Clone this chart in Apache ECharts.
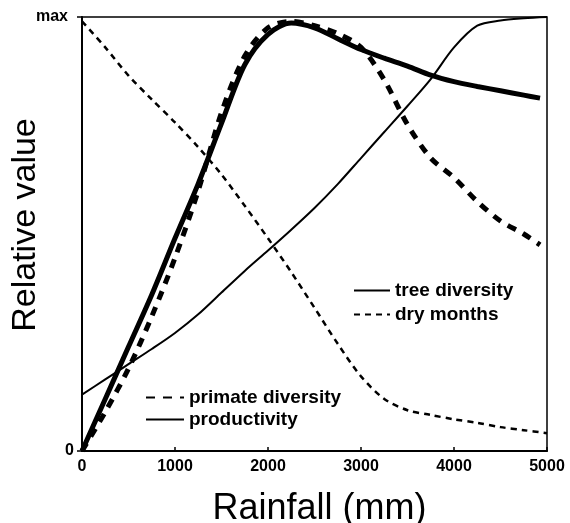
<!DOCTYPE html>
<html>
<head>
<meta charset="utf-8">
<script src="https://cdn.jsdelivr.net/npm/echarts@6/dist/echarts.min.js"></script>
<style>
  html, body { margin: 0; padding: 0; background: #fff; }
  #chart { width: 570px; height: 523px; }
</style>
</head>
<body>
<div id="chart"></div>
<script>
// rainfall (mm) sample points
var rainThick = [0, 250, 500, 750, 1000, 1250, 1500, 1750, 2000, 2250, 2500, 2750, 3000, 3250, 3500, 3750, 4000, 4250, 4500, 4750, 4925];
var rainThin = [0, 250, 500, 750, 1000, 1250, 1500, 1750, 2000, 2250, 2500, 2750, 3000, 3250, 3500, 3750, 4000, 4250, 4500, 4750, 5000];

var productivity = [0, 0.12, 0.24, 0.36, 0.49, 0.616, 0.755, 0.89, 0.96, 0.986, 0.975, 0.95, 0.925, 0.905, 0.887, 0.866, 0.851, 0.84, 0.83, 0.82, 0.813];
var primateDiversity = [0, 0.09, 0.19, 0.31, 0.445, 0.6, 0.78, 0.91, 0.975, 0.99, 0.98, 0.962, 0.93, 0.855, 0.752, 0.675, 0.63, 0.575, 0.53, 0.5, 0.475];
var treeDiversity = [0.13, 0.165, 0.2, 0.235, 0.272, 0.315, 0.365, 0.415, 0.462, 0.51, 0.56, 0.615, 0.675, 0.735, 0.795, 0.857, 0.93, 0.98, 0.992, 0.997, 1.0];
var dryMonths = [0.99, 0.93, 0.865, 0.81, 0.757, 0.7, 0.637, 0.565, 0.49, 0.412, 0.33, 0.247, 0.172, 0.12, 0.094, 0.083, 0.073, 0.065, 0.055, 0.048, 0.041];

var yTickLabels = ['0', 'max'];

function pairs(xs, ys) {
    return xs.map(function (x, i) { return [x, ys[i]]; });
}

var font = "'Liberation Sans', Arial, sans-serif";

var chartDom = document.getElementById('chart');
var myChart = echarts.init(chartDom);

var legendText = { color: '#000', fontSize: 19, fontWeight: 'bold', fontFamily: font };

var option = {
    backgroundColor: '#fff',
    animation: false,
    grid: {
        left: 82,
        right: 23,
        top: 17,
        bottom: 72,
        outerBoundsMode: 'none',
        containLabel: false,
        show: true,
        borderColor: '#000',
        borderWidth: 1.5
    },
    legend: [
        {
            data: ['tree diversity', 'dry months'],
            orient: 'vertical',
            left: 353,
            top: 281,
            padding: 0,
            itemWidth: 36,
            itemHeight: 16,
            itemGap: 5,
            itemStyle: { opacity: 0 },
            textStyle: legendText
        },
        {
            data: ['primate diversity', 'productivity'],
            orient: 'vertical',
            left: 145,
            top: 388,
            padding: 0,
            itemWidth: 38,
            itemHeight: 16,
            itemGap: 3,
            itemStyle: { opacity: 0 },
            textStyle: legendText
        }
    ],
    xAxis: {
        type: 'value',
        min: 0,
        max: 5000,
        interval: 1000,
        name: 'Rainfall (mm)',
        nameLocation: 'middle',
        nameGap: 40,
        nameMoveOverlap: false,
        nameTextStyle: { color: '#000', fontSize: 36, fontFamily: font, padding: [0, 0, 0, 10] },
        axisLine: { lineStyle: { color: '#000', width: 2 } },
        axisTick: { inside: true, length: 4, lineStyle: { color: '#000', width: 1.5 } },
        axisLabel: {
            color: '#000', fontSize: 16, fontWeight: 'bold', fontFamily: font, margin: 8,
            formatter: function (v) { return String(v); }
        },
        splitLine: { show: false }
    },
    yAxis: {
        type: 'value',
        min: 0,
        max: 1,
        interval: 1,
        name: 'Relative value',
        nameLocation: 'middle',
        nameGap: 39,
        nameMoveOverlap: false,
        nameTextStyle: { color: '#000', fontSize: 34, fontFamily: font, padding: [0, 0, 0, 18] },
        axisLine: { lineStyle: { color: '#000', width: 2 } },
        axisTick: { length: 5, lineStyle: { color: '#000', width: 1.5 } },
        axisLabel: {
            color: '#000', fontSize: 16, fontWeight: 'bold', fontFamily: font, margin: 8,
            formatter: function (v) { return v >= 1 ? '{m|' + yTickLabels[1] + '}' : yTickLabels[0]; },
            rich: {
                m: { color: '#000', fontSize: 16, fontWeight: 'bold', fontFamily: font, padding: [0, 6, 0, 0] }
            }
        },
        splitLine: { show: false }
    },
    series: [
        {
            name: 'tree diversity',
            type: 'line',
            data: pairs(rainThin, treeDiversity),
            symbol: 'none',
            smooth: 0.3,
            lineStyle: { color: '#000', width: 2, type: 'solid' },
            itemStyle: { color: '#000' }
        },
        {
            name: 'dry months',
            type: 'line',
            data: pairs(rainThin, dryMonths),
            symbol: 'none',
            smooth: 0.3,
            lineStyle: { color: '#000', width: 2.5, type: [6, 5] },
            itemStyle: { color: '#000' }
        },
        {
            name: 'primate diversity',
            type: 'line',
            data: pairs(rainThick, primateDiversity),
            symbol: 'none',
            smooth: 0.3,
            lineStyle: { color: '#000', width: 5, type: [9, 8] },
            itemStyle: { color: '#000' }
        },
        {
            name: 'productivity',
            type: 'line',
            data: pairs(rainThick, productivity),
            symbol: 'none',
            smooth: 0.3,
            lineStyle: { color: '#000', width: 5, type: 'solid' },
            itemStyle: { color: '#000' }
        }
    ]
};

myChart.setOption(option);
window.addEventListener('resize', function () {
    myChart.resize();
});
</script>
</body>
</html>
